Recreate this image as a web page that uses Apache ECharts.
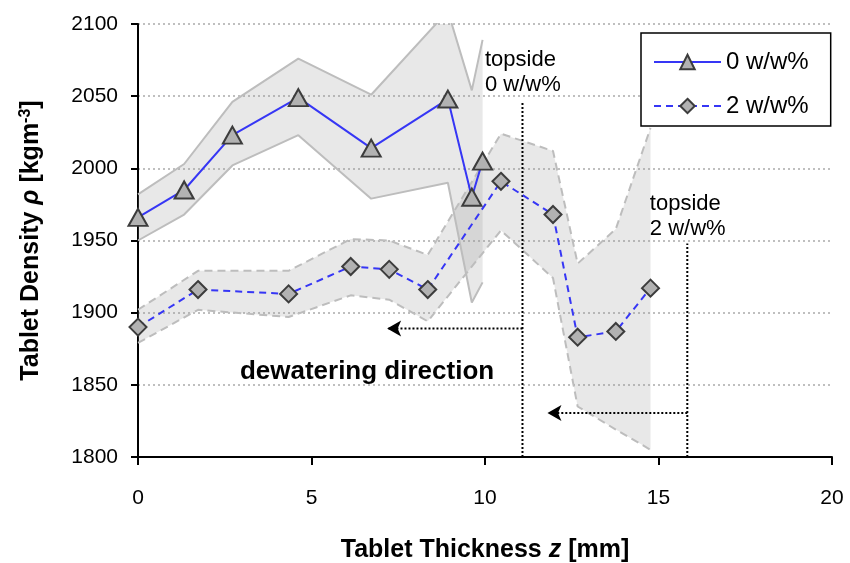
<!DOCTYPE html>
<html>
<head>
<meta charset="utf-8">
<script src="https://cdn.jsdelivr.net/npm/echarts@6/dist/echarts.min.js"></script>
<style>html,body{margin:0;padding:0;background:#fff}#c{width:850px;height:563px}</style>
</head>
<body>
<div id="c"></div>
<script>
// ---- data ----
const x0 = [0, 1.33, 2.72, 4.62, 6.72, 8.93, 9.62, 9.93];
const rho0 = [1966, 1985, 2023, 2049, 2014, 2048, 1980, 2005];
const rho0Upper = [1982, 2003, 2046, 2076, 2051, 2109, 2054, 2089];
const rho0Lower = [1950, 1968, 2002, 2023, 1979, 1990, 1907, 1921];

const x2 = [0, 1.73, 4.34, 6.13, 7.24, 8.35, 10.46, 11.96, 12.67, 13.77, 14.77];
const rho2 = [1890, 1916, 1913, 1932, 1930, 1916, 1991, 1968, 1883, 1887, 1917];
const rho2Upper = [1902, 1929, 1929, 1951, 1950, 1940, 2024, 2012, 1934, 1958, 2028];
const rho2Lower = [1879, 1902, 1897, 1912, 1909, 1894, 1957, 1924, 1835, 1819, 1805];

const seriesNames = ['0 w/w%', '2 w/w%'];
const topsideZ = [11.08, 15.83];
const topsideTop = [2046, 1948];
const arrowY = [1889, 1830.5];
const arrowTipZ = [7.18, 11.8];
const topsideLabels = ['topside\n0 w/w%', 'topside\n2 w/w%'];
const topsideLabelPos = [[10.0, 2084], [14.75, 1984]];
const dewaterLabel = 'dewatering direction';
const dewaterPos = [6.6, 1859];

const xTicks = {min: 0, max: 20, interval: 5};
const yTicks = {min: 1800, max: 2100, interval: 50};

const FONT = '"Liberation Sans", Arial, sans-serif';

function zip(xs, ys) { return xs.map((x, i) => [x, ys[i]]); }

function bandSeries(xs, up, lo) {
  return {
    type: 'custom',
    clip: true,
    silent: true,
    z: 1,
    data: [[xs[0], up[0]]],
    renderItem: function (params, api) {
      const pts = [];
      for (let i = 0; i < xs.length; i++) pts.push(api.coord([xs[i], up[i]]));
      for (let i = xs.length - 1; i >= 0; i--) pts.push(api.coord([xs[i], lo[i]]));
      return {type: 'polygon', shape: {points: pts}, style: {fill: 'rgba(150,150,150,0.22)'}};
    }
  };
}
function outline(xs, ys, dashed) {
  return {
    type: 'line', data: zip(xs, ys), symbol: 'none', silent: true, z: 2,
    lineStyle: {color: '#bdbdbd', width: 2, type: dashed ? [8, 5] : 'solid'}
  };
}
function vline(i) {
  return {
    type: 'line', symbol: 'none', silent: true, z: 3,
    data: [[topsideZ[i], yTicks.min], [topsideZ[i], topsideTop[i]]],
    lineStyle: {color: '#000', width: 2, type: [2, 2]}
  };
}
function arrow(i) {
  return {
    type: 'line', silent: true, z: 3, showSymbol: true,
    data: [
      {value: [topsideZ[i], arrowY[i]], symbol: 'none'},
      {value: [arrowTipZ[i], arrowY[i]], symbol: 'arrow', symbolSize: [12, 14], symbolRotate: 90}
    ],
    itemStyle: {color: '#000'},
    lineStyle: {color: '#000', width: 2, type: [2, 2]}
  };
}

const chart = echarts.init(document.getElementById('c'), null, {renderer: 'canvas'});
const option = {
  animation: false,
  backgroundColor: '#fff',
  textStyle: {fontFamily: FONT},
  grid: {left: 138, right: 18, top: 24, bottom: 106, containLabel: false, outerBoundsMode: 'none'},
  legend: {
    data: seriesNames,
    orient: 'vertical',
    left: 641, top: 33,
    padding: [17, 22, 8, 12],
    itemWidth: 67, itemHeight: 18, itemGap: 20,
    borderColor: '#000', borderWidth: 1.5,
    backgroundColor: '#fff',
    textStyle: {fontSize: 24, color: '#000', fontFamily: FONT, lineHeight: 24}
  },
  xAxis: {
    type: 'value', min: xTicks.min, max: xTicks.max, interval: xTicks.interval,
    name: 'Tablet Thickness {i|z} [mm]',
    nameLocation: 'middle', nameGap: 81,
    nameTextStyle: {fontSize: 25, fontWeight: 'bold', color: '#000', fontFamily: FONT,
      rich: {i: {fontSize: 25, fontWeight: 'bold', fontStyle: 'italic', fontFamily: FONT, color: '#000'}}},
    axisLine: {lineStyle: {color: '#000', width: 2}},
    axisTick: {show: true, length: 8, lineStyle: {color: '#000', width: 2}},
    axisLabel: {fontSize: 21, color: '#000', margin: 31, fontFamily: FONT, formatter: v => String(v)},
    splitLine: {show: false}
  },
  yAxis: {
    type: 'value', min: yTicks.min, max: yTicks.max, interval: yTicks.interval,
    name: 'Tablet Density {i|ρ} [kgm{sup|-3}]',
    nameLocation: 'middle', nameGap: 94, nameRotate: 90,
    nameTextStyle: {fontSize: 25, fontWeight: 'bold', color: '#000', fontFamily: FONT,
      rich: {
        i: {fontSize: 25, fontWeight: 'bold', fontStyle: 'italic', fontFamily: FONT, color: '#000'},
        sup: {fontSize: 16, fontWeight: 'bold', fontFamily: FONT, color: '#000', verticalAlign: 'top', padding: [0, 0, 10, 0]}
      }},
    axisLine: {show: true, lineStyle: {color: '#000', width: 2}},
    axisTick: {show: true, length: 7, lineStyle: {color: '#000', width: 2}},
    axisLabel: {fontSize: 21, color: '#000', margin: 20, fontFamily: FONT, formatter: v => String(v)},
    splitLine: {show: true, lineStyle: {color: '#aaaaaa', width: 1.5, type: [2, 3]}}
  },
  series: [
    bandSeries(x0, rho0Upper, rho0Lower),
    bandSeries(x2, rho2Upper, rho2Lower),
    outline(x0, rho0Upper, false),
    outline(x0, rho0Lower, false),
    outline(x2, rho2Upper, true),
    outline(x2, rho2Lower, true),
    vline(0), vline(1), arrow(0), arrow(1),
    {
      name: seriesNames[0], type: 'line', data: zip(x0, rho0), z: 5,
      symbol: 'triangle', symbolSize: [19, 17], showSymbol: true,
      lineStyle: {color: '#3636f5', width: 2},
      itemStyle: {color: '#b2b2b2', borderColor: '#3c3c3c', borderWidth: 2}
    },
    {
      name: seriesNames[1], type: 'line', data: zip(x2, rho2), z: 5,
      symbol: 'diamond', symbolSize: [17, 17], showSymbol: true,
      lineStyle: {color: '#3636f5', width: 2, type: [7, 5]},
      itemStyle: {color: '#b2b2b2', borderColor: '#3c3c3c', borderWidth: 2}
    }
  ]
};
chart.setOption(option);

function px(p) { return chart.convertToPixel({gridIndex: 0}, p); }
const g = [];
topsideLabels.forEach((t, i) => {
  const p = px(topsideLabelPos[i]);
  g.push({type: 'text', x: p[0], y: p[1], z: 10,
    style: {text: t, font: '22px ' + FONT, fill: '#000', lineHeight: 25, textAlign: 'left', textVerticalAlign: 'top'}});
});
const dp = px(dewaterPos);
g.push({type: 'text', x: dp[0], y: dp[1], z: 10,
  style: {text: dewaterLabel, font: 'bold 26px ' + FONT, fill: '#000', textAlign: 'center', textVerticalAlign: 'middle'}});
chart.setOption({graphic: g});
</script>
</body>
</html>
